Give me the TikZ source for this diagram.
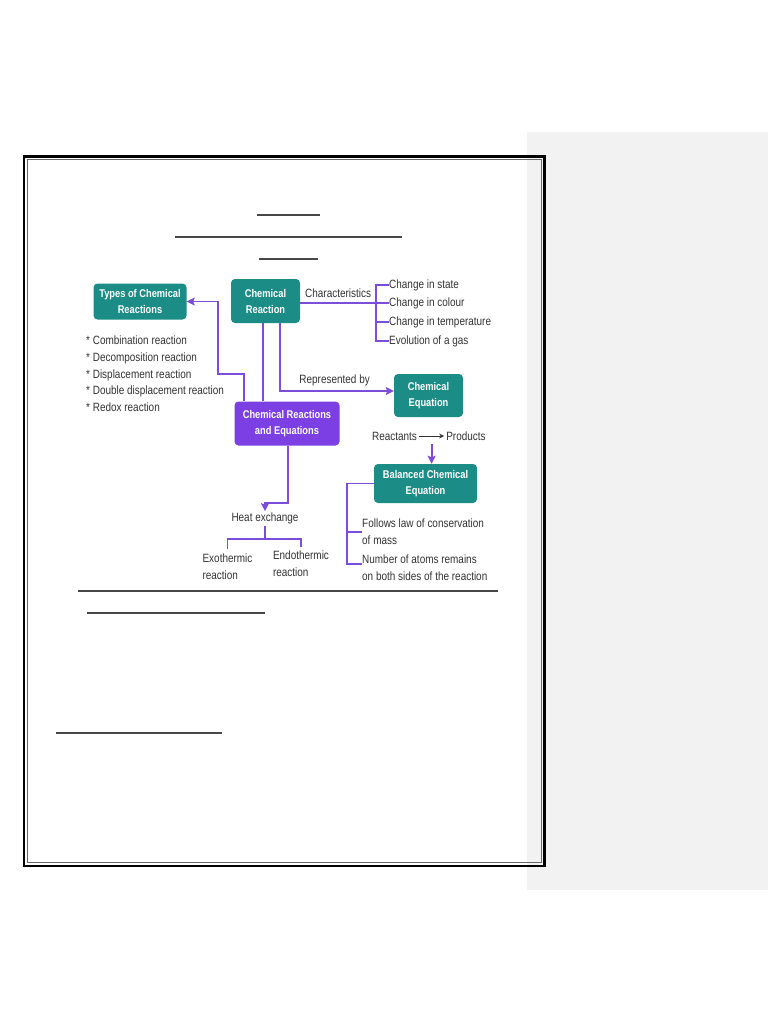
\documentclass[tikz,border=0pt]{standalone}
\usepackage{fontspec}
\setmainfont{Liberation Sans}[FakeStretch=0.83]
\usetikzlibrary{arrows.meta,positioning,calc}
\definecolor{tealbox}{HTML}{1B8C86}
\definecolor{lila}{HTML}{7B3FE4}
\definecolor{lilaline}{HTML}{7C4DD8}
\definecolor{ink}{HTML}{333333}
\definecolor{panel}{HTML}{F2F2F2}
\tikzset{
  box/.style={fill=tealbox,text=white,rounded corners=4pt,align=center,inner sep=0pt,
    font=\bfseries\fontsize{11.2}{16}\selectfont},
  pbox/.style={box,fill=lila},
  txt/.style={text=ink,inner sep=0pt,align=left,font=\fontsize{12}{16.7}\selectfont},
  lnk/.style={draw=lilaline,line width=1.8pt},
  arr/.style={lnk,-{Stealth[length=8pt,width=8pt,inset=1.5pt]}},
  rule/.style={draw=black!72,line width=1.3pt},
}
\begin{document}
\begin{tikzpicture}[x=1pt,y=-1pt]
  \useasboundingbox[fill=white] (0,0) rectangle (768,1024);
  \fill[panel] (527,132) rectangle (768,890);
  % page frame
  \draw[black,line width=2.6pt] (24,156.5) rectangle (544.5,866);
  \draw[black!60,line width=1pt] (27.5,159.5) rectangle (541,862.5);
  % empty heading and answer lines
  \draw[rule] (257,215) -- (320,215);
  \draw[rule] (175,237) -- (402,237);
  \draw[rule] (259,259) -- (318,259);
  \draw[rule] (78,591) -- (498,591);
  \draw[rule] (87,613) -- (265,613);
  \draw[rule] (56,733) -- (222,733);

  % boxes
  \node[box,minimum width=93,minimum height=36] (typ) at (140,301.5) {Types of Chemical\\Reactions};
  \node[box,minimum width=69,minimum height=44] (chr) at (265.5,301) {Chemical\\Reaction};
  \node[box,minimum width=69,minimum height=43] (ceq) at (428.5,395.5) {Chemical\\Equation};
  \node[pbox,minimum width=105,minimum height=44] (cre) at (287,423.5) {Chemical Reactions\\and Equations};
  \node[box,minimum width=103,minimum height=39] (bce) at (425.5,483.5) {Balanced Chemical\\Equation};

  % types list
  \node[txt,anchor=north west] (lst) at (86,336)
    {* Combination reaction\\* Decomposition reaction\\* Displacement reaction\\
     * Double displacement reaction\\* Redox reaction};

  % characteristics
  \node[txt,anchor=west] (c1) at (389,285) {Change in state};
  \node[txt,anchor=west] (c2) at (389,303) {Change in colour};
  \node[txt,anchor=west] (c3) at (389,322) {Change in temperature};
  \node[txt,anchor=west] (c4) at (389,341) {Evolution of a gas};
  \draw[lnk] (chr.east |- c2.west) -- ([xshift=-13pt]c2.west)
    node[txt,midway,above=4pt] (chl) {Characteristics};
  \draw[lnk] (c1.west) -- ++(-13,0) |- (c4.west);
  \foreach \c in {c2,c3} \draw[lnk] (\c.west) -- ++(-13,0);

  % chemical reaction links
  \draw[arr] ([xshift=14.5pt]chr.south) |- ([yshift=4.5pt]ceq.west)
    node[txt,pos=0.74,above=4pt] (rep) {Represented by};
  \draw[lnk] ([xshift=-2.5pt]chr.south) -- ([xshift=-2.5pt]chr.south |- cre.north);
  \draw[arr] ([xshift=-43pt]cre.north) |- (218,374) |- (typ.east);

  % reactants -> products
  \node[txt] (rea) at (394.5,436) {Reactants};
  \node[txt] (prd) at (466,436) {Products};
  \draw[ink,line width=1pt,-{Stealth[length=5pt,width=5pt]}] ([xshift=2pt]rea.east) -- ([xshift=-2pt]prd.west);
  \coordinate (rp) at ($(rea.east)!.5!(prd.west)$);
  \draw[arr] ([yshift=-8pt]rp) -- (rp |- bce.north);

  % balanced equation notes
  \node[txt,anchor=west] (fl) at (362,532) {Follows law of conservation\\of mass};
  \node[txt,anchor=west] (na) at (362,568) {Number of atoms remains\\on both sides of the reaction};
  \draw[lnk] (bce.west) -| (347,564) -- ([yshift=4pt]na.west);
  \draw[lnk] (347,532) -- (fl.west);

  % heat exchange
  \node[txt] (heat) at (265,518) {Heat exchange};
  \draw[arr] ([xshift=1pt]cre.south) |- ($(heat.north)+(0,-9)$) -- ([yshift=1pt]heat.north);
  \node[txt,anchor=north] (exo) at (227.5,554) {Exothermic\\reaction};
  \node[txt,anchor=north] (endo) at (301,551) {Endothermic\\reaction};
  \draw[lnk] ([yshift=-2pt]heat.south) -- ++(0,13) coordinate (hj);
  \draw[lnk] ([yshift=5pt]exo.north) |- (hj) -| ([yshift=4pt]endo.north);
\end{tikzpicture}
\end{document}
